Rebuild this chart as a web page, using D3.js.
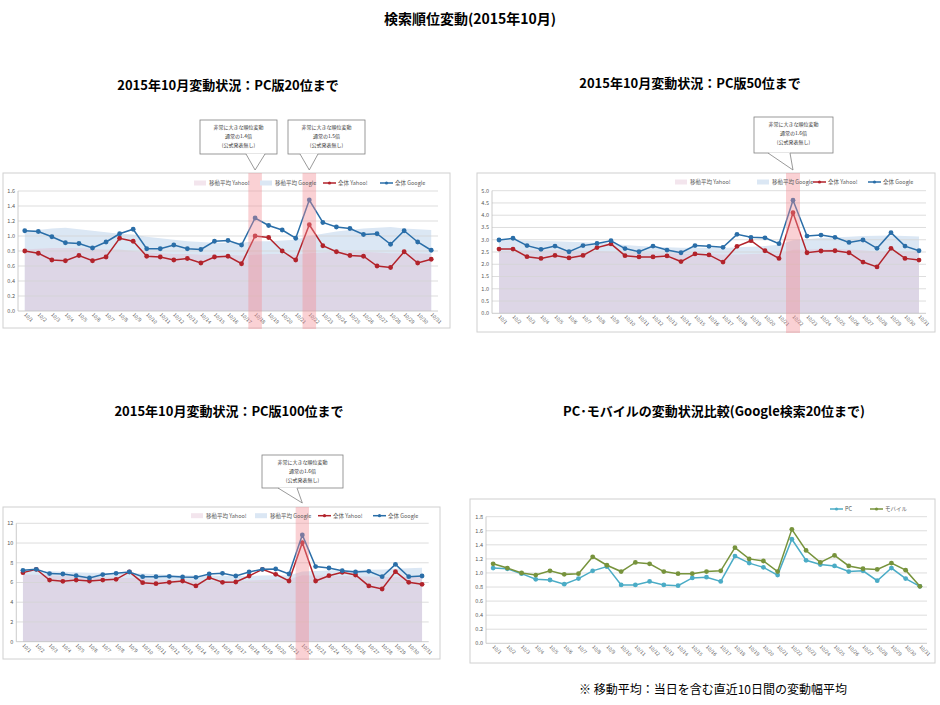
<!DOCTYPE html>
<html>
<head>
<meta charset="utf-8">
<script src="https://cdn.jsdelivr.net/npm/d3@7"></script>
<style>
body { margin: 0; background: #fff; }
svg { display: block; font-family: "Noto Sans CJK JP", "Noto Sans", sans-serif; }
</style>
</head>
<body>
<svg id="chart" width="940" height="705"></svg>
<script>
// categories
const days = ["10/1","10/2","10/3","10/4","10/5","10/6","10/7","10/8","10/9","10/10",
  "10/11","10/12","10/13","10/14","10/15","10/16","10/17","10/18","10/19","10/20",
  "10/21","10/22","10/23","10/24","10/25","10/26","10/27","10/28","10/29","10/30","10/31"];

// PC 20位まで
const yahoo20 = [0.80,0.77,0.68,0.67,0.74,0.67,0.72,0.97,0.93,0.73,0.72,0.68,0.70,0.64,0.72,0.73,0.63,1.00,0.98,0.80,0.68,1.15,0.87,0.79,0.74,0.73,0.60,0.58,0.79,0.64,0.69];
const google20 = [1.07,1.06,0.99,0.91,0.90,0.84,0.92,1.03,1.09,0.83,0.83,0.88,0.83,0.82,0.93,0.94,0.88,1.24,1.14,1.08,0.97,1.48,1.18,1.12,1.10,1.02,1.03,0.89,1.07,0.92,0.81];
const yahooMa20 = [0.82,0.83,0.84,0.84,0.84,0.83,0.82,0.82,0.80,0.78,0.77,0.76,0.76,0.75,0.75,0.75,0.74,0.75,0.76,0.76,0.75,0.77,0.78,0.79,0.79,0.79,0.78,0.77,0.77,0.77,0.76];
const googleMa20 = [1.07,1.08,1.10,1.11,1.09,1.07,1.05,1.03,1.02,0.99,0.97,0.95,0.93,0.92,0.91,0.91,0.91,0.93,0.93,0.94,0.95,1.00,1.03,1.06,1.08,1.10,1.11,1.12,1.10,1.09,1.08];

// PC 50位まで
const yahoo50 = [2.62,2.62,2.31,2.24,2.36,2.26,2.36,2.68,2.83,2.35,2.30,2.30,2.34,2.11,2.42,2.38,2.09,2.73,2.96,2.55,2.24,4.10,2.47,2.54,2.55,2.47,2.09,1.89,2.65,2.24,2.17];
const google50 = [2.99,3.06,2.76,2.61,2.74,2.51,2.76,2.85,2.96,2.64,2.51,2.74,2.58,2.47,2.76,2.73,2.69,3.22,3.10,3.08,2.84,4.61,3.15,3.19,3.10,2.89,2.99,2.65,3.29,2.74,2.55];
const yahooMa50 = [2.55,2.56,2.57,2.57,2.57,2.56,2.55,2.54,2.52,2.48,2.46,2.45,2.45,2.43,2.43,2.42,2.40,2.40,2.42,2.43,2.41,2.59,2.60,2.62,2.63,2.60,2.57,2.52,2.52,2.52,2.52];
const googleMa50 = [2.98,2.98,2.97,2.95,2.94,2.92,2.90,2.88,2.85,2.79,2.74,2.71,2.69,2.67,2.67,2.67,2.66,2.69,2.71,2.74,2.80,2.98,3.02,3.07,3.10,3.12,3.15,3.16,3.17,3.15,3.13];

// PC 100位まで
const yahoo100 = [7.00,7.34,6.25,6.12,6.25,6.15,6.25,6.32,7.07,5.98,5.88,6.02,6.15,5.65,6.49,6.02,6.05,6.66,7.34,6.83,6.15,10.04,6.15,6.69,7.03,6.76,5.65,5.34,7.10,6.02,5.82];
const google100 = [7.23,7.34,6.90,6.86,6.69,6.46,6.80,6.93,7.07,6.59,6.59,6.63,6.56,6.52,6.86,6.93,6.66,7.07,7.34,7.37,6.86,10.82,7.61,7.47,7.20,7.07,7.13,6.59,7.84,6.59,6.66];
const yahooMa100 = [6.80,6.78,6.72,6.65,6.60,6.55,6.50,6.45,6.45,6.40,6.30,6.25,6.22,6.18,6.18,6.16,6.15,6.20,6.25,6.30,6.34,6.74,6.70,6.68,6.66,6.64,6.60,6.55,6.55,6.55,6.55];
const googleMa100 = [7.25,7.20,7.15,7.10,7.05,7.00,6.98,6.95,6.93,6.90,6.83,6.76,6.73,6.70,6.70,6.69,6.67,6.67,6.70,6.73,6.71,7.12,7.17,7.22,7.25,7.27,7.30,7.33,7.40,7.45,7.50];

// PC / mobile (Google 20位まで)
const pc20 = google20;
const mobile20 = [1.13,1.07,1.00,0.97,1.03,0.98,0.99,1.23,1.11,1.02,1.15,1.13,1.02,0.99,0.99,1.02,1.03,1.36,1.20,1.17,1.02,1.62,1.32,1.15,1.25,1.10,1.06,1.05,1.14,1.04,0.81];

// flagged days and callout texts
const flagged20 = ["10/18", "10/22"];
const flagged50 = ["10/22"];
const flagged100 = ["10/22"];
const note20 = [["非常に大きな順位変動","通常の1.4倍","(公式発表無し)"], ["非常に大きな順位変動","通常の1.5倍","(公式発表無し)"]];
const note50 = [["非常に大きな順位変動","通常の1.6倍","(公式発表無し)"]];
const note100 = [["非常に大きな順位変動","通常の1.6倍","(公式発表無し)"]];

const C = {
  yahoo: "#b2232b", google: "#2a6ea8", pc: "#4bacc6", mobile: "#77933c",
  maGoogle: "#dbe7f4", maYahoo: "rgb(225,190,210)", flag: "#f28b93",
  grid: "#d4d4d4", axis: "#bfbfbf", frame: "#d0d0d0", label: "#595959"
};

const svg = d3.select("#chart");

svg.append("text").attr("x", 470).attr("y", 24).attr("text-anchor", "middle")
  .attr("font-size", 14).attr("font-weight", "bold").text("検索順位変動(2015年10月)");

function drawPanel(cfg) {
  const g = svg.append("g");
  const f = cfg.frame;
  g.append("rect").attr("x", f[0]).attr("y", f[1]).attr("width", f[2]).attr("height", f[3])
    .attr("fill", "#fff").attr("stroke", C.frame).attr("stroke-width", 1);

  const x = d3.scaleBand().domain(days).range([cfg.left, cfg.right]);
  const y = d3.scaleLinear().domain([0, cfg.max]).range([cfg.bottom, cfg.top]);
  const cx = d => x(d) + x.bandwidth() / 2;

  // moving-average areas
  (cfg.areas || []).forEach(a => {
    const area = d3.area().x((d, i) => cx(days[i])).y0(y(0)).y1(d => y(d));
    g.append("path").datum(a.values).attr("d", area)
      .attr("fill", a.color).attr("fill-opacity", a.opacity);
  });

  // grid and axes
  const ticks = y.ticks(cfg.tickCount);
  g.selectAll(".grid").data(ticks.filter(t => t > 0)).enter().append("line")
    .attr("x1", cfg.left).attr("x2", cfg.right)
    .attr("y1", d => y(d)).attr("y2", d => y(d))
    .attr("stroke", C.grid).attr("stroke-width", 0.8);
  g.append("line").attr("x1", cfg.left).attr("x2", cfg.right)
    .attr("y1", y(0)).attr("y2", y(0)).attr("stroke", C.axis).attr("stroke-width", 0.8);
  g.append("line").attr("x1", cfg.left).attr("x2", cfg.left)
    .attr("y1", y(cfg.max)).attr("y2", y(0)).attr("stroke", C.axis).attr("stroke-width", 0.8);

  g.selectAll(".ylab").data(ticks).enter().append("text")
    .attr("x", cfg.left - 3).attr("y", d => y(d)).attr("dy", "0.35em")
    .attr("text-anchor", "end").attr("font-size", 5.5).attr("fill", C.label)
    .text(d3.format(cfg.fmt));

  g.selectAll(".xlab").data(days).enter().append("text")
    .attr("transform", d => "translate(" + (cx(d) - 1) + "," + (y(0) + 4) + ") rotate(45)")
    .attr("font-size", 5).attr("fill", C.label).text(d => d);

  // series
  cfg.lines.forEach(s => {
    const line = d3.line().x((d, i) => cx(days[i])).y(d => y(d));
    g.append("path").datum(s.values).attr("d", line)
      .attr("fill", "none").attr("stroke", s.color).attr("stroke-width", 1.5);
    g.selectAll(null).data(s.values).enter().append("circle")
      .attr("cx", (d, i) => cx(days[i])).attr("cy", d => y(d)).attr("r", 2.4)
      .attr("fill", s.color);
  });

  // highlighted days
  (cfg.flags || []).forEach(day => {
    g.append("rect").attr("x", x(day)).attr("width", x.bandwidth())
      .attr("y", f[1]).attr("height", f[3] + 1)
      .attr("fill", C.flag).attr("fill-opacity", 0.4);
  });

  // legend
  cfg.legend.forEach(it => {
    const ly = cfg.legendY;
    if (it.kind === "area") {
      g.append("rect").attr("x", it.x).attr("y", ly - 2.5).attr("width", 12).attr("height", 5)
        .attr("fill", it.color).attr("fill-opacity", it.opacity);
    } else {
      g.append("line").attr("x1", it.x).attr("x2", it.x + 13).attr("y1", ly).attr("y2", ly)
        .attr("stroke", it.color).attr("stroke-width", 1.5);
      g.append("circle").attr("cx", it.x + 6.5).attr("cy", ly).attr("r", 1.6).attr("fill", it.color);
    }
    g.append("text").attr("x", it.x + 15).attr("y", ly).attr("dy", "0.35em")
      .attr("font-size", 5.5).attr("fill", C.label).text(it.label);
  });

  // callouts
  (cfg.callouts || []).forEach((co, i) => {
    const b = co.box, tipX = cx(cfg.flags[i]);
    g.append("rect").attr("x", b[0]).attr("y", b[1]).attr("width", b[2]).attr("height", b[3])
      .attr("fill", "#fff").attr("stroke", "#808080").attr("stroke-width", 0.8);
    const by = b[1] + b[3];
    g.append("path").attr("d", `M${co.base[0]},${by - 0.6}L${tipX},${co.tipY}L${co.base[1]},${by - 0.6}Z`)
      .attr("fill", "#fff");
    g.append("path").attr("d", `M${co.base[0]},${by}L${tipX},${co.tipY}L${co.base[1]},${by}`)
      .attr("fill", "none").attr("stroke", "#808080").attr("stroke-width", 0.8);
    co.lines.forEach((t, j) => {
      g.append("text").attr("x", b[0] + b[2] / 2).attr("y", b[1] + 9 + j * 9)
        .attr("text-anchor", "middle").attr("font-size", 5).attr("fill", "#333").text(t);
    });
  });

  if (cfg.title) {
    svg.append("text").attr("x", cfg.title.x).attr("y", cfg.title.y).attr("text-anchor", "middle")
      .attr("font-size", 13).attr("font-weight", "bold").text(cfg.title.text);
  }
}

function rankLegend(xs) {
  return [
    { kind: "area", x: xs[0], color: C.maYahoo, opacity: 0.4, label: "移動平均 Yahoo!" },
    { kind: "area", x: xs[1], color: C.maGoogle, opacity: 1, label: "移動平均 Google" },
    { kind: "line", x: xs[2], color: C.yahoo, label: "全体 Yahoo!" },
    { kind: "line", x: xs[3], color: C.google, label: "全体 Google" }
  ];
}

function rankSeries(ya, go, yaMa, goMa) {
  return {
    areas: [{ values: goMa, color: C.maGoogle, opacity: 1 }, { values: yaMa, color: C.maYahoo, opacity: 0.4 }],
    lines: [{ values: ya, color: C.yahoo }, { values: go, color: C.google }]
  };
}

drawPanel(Object.assign({
  title: { x: 228, y: 90, text: "2015年10月変動状況：PC版20位まで" },
  frame: [3, 173, 447, 155], left: 18, right: 438, top: 191, bottom: 311,
  max: 1.6, tickCount: 8, fmt: ".1f",
  legendY: 183, legend: rankLegend([194, 260, 323, 380]),
  flags: flagged20,
  callouts: [
    { box: [200, 120, 77, 34], base: [246, 265], tipY: 170, lines: note20[0] },
    { box: [288, 120, 77, 34], base: [300, 318], tipY: 170, lines: note20[1] }
  ]
}, rankSeries(yahoo20, google20, yahooMa20, googleMa20)));

drawPanel(Object.assign({
  title: { x: 690, y: 88, text: "2015年10月変動状況：PC版50位まで" },
  frame: [477, 173, 458, 159], left: 492, right: 926, top: 190.7, bottom: 313.3,
  max: 5, tickCount: 10, fmt: ".1f",
  legendY: 182, legend: rankLegend([675, 757, 813, 868]),
  flags: flagged50,
  callouts: [{ box: [754, 117, 79, 36], base: [768, 790], tipY: 170, lines: note50[0] }]
}, rankSeries(yahoo50, google50, yahooMa50, googleMa50)));

drawPanel(Object.assign({
  title: { x: 229, y: 416, text: "2015年10月変動状況：PC版100位まで" },
  frame: [3, 507, 437, 152], left: 16.3, right: 428.7, top: 523.3, bottom: 641.7,
  max: 12, tickCount: 6, fmt: "d",
  legendY: 515.7, legend: rankLegend([191, 255, 318, 373]),
  flags: flagged100,
  callouts: [{ box: [262, 455, 81, 33], base: [278, 297], tipY: 503, lines: note100[0] }]
}, rankSeries(yahoo100, google100, yahooMa100, googleMa100)));

drawPanel({
  title: { x: 714, y: 416, text: "PC･モバイルの変動状況比較(Google検索20位まで)" },
  frame: [470, 499, 465, 164], left: 486, right: 927, top: 516.7, bottom: 643.3,
  max: 1.8, tickCount: 9, fmt: ".1f",
  legendY: 509,
  legend: [
    { kind: "line", x: 830, color: C.pc, label: "PC" },
    { kind: "line", x: 870, color: C.mobile, label: "モバイル" }
  ],
  lines: [{ values: pc20, color: C.pc }, { values: mobile20, color: C.mobile }]
});

svg.append("text").attr("x", 713).attr("y", 694).attr("text-anchor", "middle")
  .attr("font-size", 12).text("※ 移動平均：当日を含む直近10日間の変動幅平均");
</script>
</body>
</html>
